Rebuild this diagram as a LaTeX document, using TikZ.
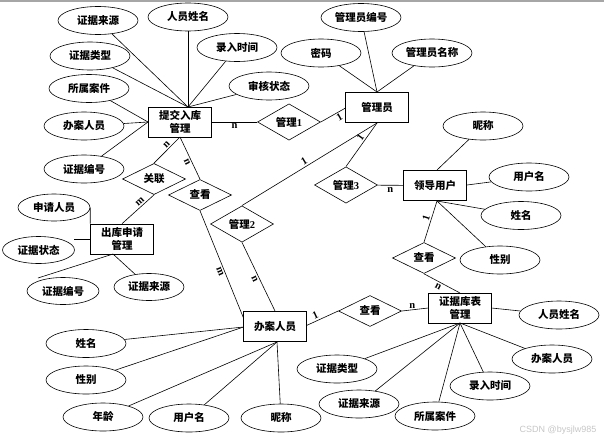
\documentclass[tikz,border=0pt]{standalone}
\usepackage{fontspec}
\usetikzlibrary{shapes.geometric}
\newfontfamily\cjk{Noto Sans CJK SC}
\newfontfamily\lsr{Liberation Serif}
\newfontfamily\lss{Liberation Sans}
\begin{document}
\begin{tikzpicture}[x=1pt,y=-1pt, line width=0.6pt,
  txt/.style={font=\fontsize{10.5}{13.5}\selectfont\cjk\bfseries},
  ent/.style={txt, draw, rectangle, minimum width=63pt, minimum height=30pt, inner sep=0pt, align=center},
  attr/.style={txt, draw, ellipse, minimum width=80pt, minimum height=28pt, inner sep=0pt},
  sattr/.style={attr, minimum width=72pt, minimum height=27pt},
  rel/.style={txt, draw, diamond, minimum width=63pt, minimum height=30pt, inner sep=0pt},
  lab/.style={font=\fontsize{10.5}{11}\selectfont\lsr\bfseries, inner sep=1.5pt}]
\useasboundingbox (0,0) rectangle (604,442);
\fill[gray!70] (0,0) rectangle (604,1.6);

% entities
\node[ent] (tj) at (180,122) {提交入库\\管理};
\node[ent] (gly) at (377,107.5) {管理员};
\node[ent] (ld) at (435,185.5) {领导用户};
\node[ent] (zk) at (460,308) {证据库表\\管理};
\node[ent] (ba) at (275,326.5) {办案人员};
\node[ent] (ck) at (122,239) {出库申请\\管理};

% relations
\node[rel] (gl1) at (289,122) {管理{\lsr 1}};
\node[rel] (gl3) at (346,185) {管理{\lsr 3}};
\node[rel] (ck2) at (424,258) {查看};
\node[rel] (ck3) at (370,311) {查看};
\node[rel] (gln) at (154,179) {关联};
\node[rel] (ck1) at (200,195) {查看};
\node[rel] (gl2) at (242,224) {管理{\lsr 2}};

% attributes of 提交入库管理
\node[attr] (a1) at (98,20.5) {证据来源};
\node[attr] (a2) at (188,17) {人员姓名};
\node[attr] (a3) at (237,47.5) {录入时间};
\node[attr] (a4) at (90,56) {证据类型};
\node[attr] (a5) at (269,86) {审核状态};
\node[attr] (a6) at (89,88.5) {所属案件};
\node[attr] (a7) at (84,126) {办案人员};
\node[attr] (a8) at (84,169) {证据编号};
% attributes of 管理员
\node[attr] (b1) at (361,17.5) {管理员编号};
\node[attr] (b2) at (321,53) {密码};
\node[attr] (b3) at (432,53) {管理员名称};
% attributes of 领导用户
\node[attr] (c1) at (483,126) {昵称};
\node[attr] (c2) at (529,177) {用户名};
\node[attr] (c3) at (521,215.5) {姓名};
\node[attr] (c4) at (500,260) {性别};
% attributes of 证据库表管理
\node[attr] (d1) at (559,315) {人员姓名};
\node[attr] (d2) at (552,359) {办案人员};
\node[attr] (d3) at (490,386) {录入时间};
\node[attr] (d4) at (435,416) {所属案件};
\node[attr] (d5) at (359,404) {证据来源};
\node[attr] (d6) at (337,369) {证据类型};
% attributes of 办案人员
\node[attr] (e1) at (86,343.5) {姓名};
\node[attr] (e2) at (86,380) {性别};
\node[attr] (e3) at (103,417) {年龄};
\node[attr] (e4) at (189,418) {用户名};
\node[attr] (e5) at (281,418) {昵称};
% attributes of 出库申请管理
\node[sattr] (f1) at (54,207.5) {申请人员};
\node[sattr] (f2) at (38.5,250) {证据状态};
\node[sattr] (f3) at (63,291) {证据编号};
\node[sattr, minimum width=70pt] (f4) at (149,287) {证据来源};

% connection points
\coordinate (tjT) at (188,107);
\coordinate (tjL) at (148,122);
\coordinate (tjB) at (180,137);
\coordinate (glyT) at (377,92);
\coordinate (glyB) at (377,123);
\coordinate (glyL) at (345.5,108);
\coordinate (ldT) at (437,170);
\coordinate (ldR) at (467,185);
\coordinate (ldB) at (437,201);
\coordinate (zkB) at (460,323);
\coordinate (zkR) at (491.5,308);
\coordinate (zkT) at (460,293);
\coordinate (baL) at (243.5,327);
\coordinate (baB) at (277,342);
\coordinate (baT) at (275,311);
\coordinate (baTL) at (243.5,318);
\coordinate (baR) at (306.5,325.5);
\coordinate (ckB) at (113,254);
\coordinate (ckL) at (91,239);
\coordinate (f2r) at (74,239);
\coordinate (f3t) at (38,278);

% attribute lines
\foreach \a in {a1,a2,a3,a4,a5} \draw (\a) -- (tjT);
\foreach \a in {a6,a7,a8} \draw (\a) -- (tjL);
\foreach \a in {b1,b2,b3} \draw (\a) -- (glyT);
\draw (c1) -- (ldT);
\draw (c2) -- (ldR);
\draw (c3) -- (ldB);
\draw (c4) -- (ldB);
\draw (d1) -- (zkR);
\foreach \a in {d2,d3,d4,d5,d6} \draw (\a) -- (zkB);
\foreach \a in {e1,e2} \draw (\a) -- (baL);
\foreach \a in {e3,e4,e5} \draw (\a) -- (baB);
\draw (f1.east) -- (ck.north west);
\draw (f2r) -- (ckL);
\draw (f3t) -- (ckB);
\draw (f4) -- (ckB);

% relationship lines
\draw (tj) -- node[lab, below, pos=0.5] {n} (gl1);
\draw (gl1.east) -- node[lab, below, sloped, pos=0.65] {1} (glyL);
\draw (glyB) -- node[lab, above, sloped, pos=0.4] {1} (gl3.north);
\draw (glyB) -- node[lab, above, sloped, pos=0.52] {1} (gl2.north);
\draw (gl3) -- node[lab, below, pos=0.5] {n} (ld);
\draw (ldB) -- node[lab, above, sloped, pos=0.45] {1} (ck2.north);
\draw (ck2.south) -- node[lab, below, sloped, pos=0.45] {n} (zkT);
\draw (baR) -- node[lab, above, sloped, pos=0.35] {1} (ck3.west);
\draw (ck3.east) -- node[lab, above, pos=0.4] {n} (zk.west);
\draw (tjB) -- node[lab, above, sloped, pos=0.4] {n} (gln.north);
\draw (gln.south) -- node[lab, above, sloped, pos=0.35] {m} (ck.north);
\draw (tjB) -- node[lab, below, sloped, pos=0.55] {n} (ck1.north);
\draw (ck1.south) -- node[lab, below, sloped, pos=0.55] {m} (baTL);
\draw (gl2.south) -- node[lab, below, sloped, pos=0.5] {n} (baT);

\node[font=\fontsize{9}{10}\selectfont\lss, text=gray!45, anchor=east] (wm) at (600,430) {CSDN @bysjlw985};
\end{tikzpicture}
\end{document}
